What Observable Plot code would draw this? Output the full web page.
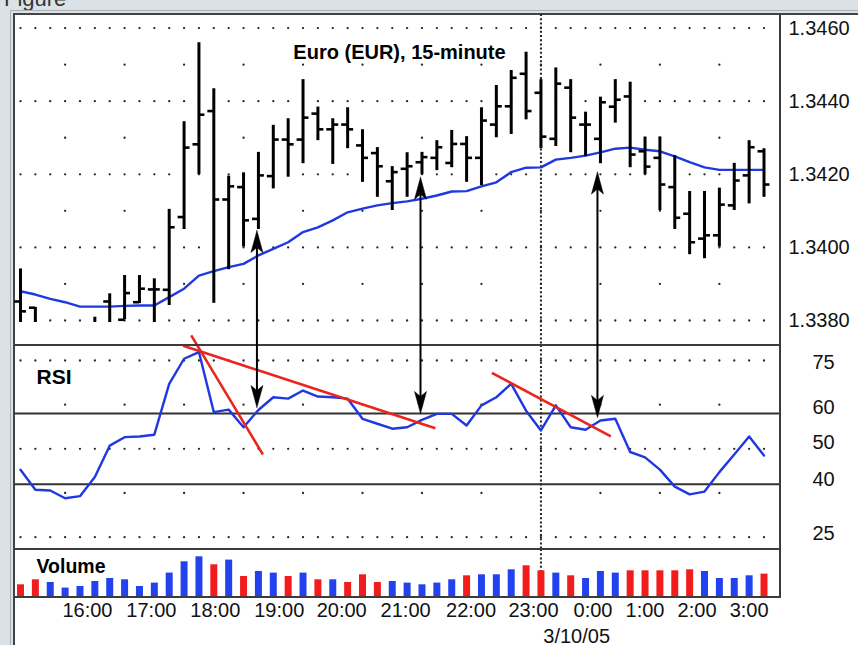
<!DOCTYPE html>
<html><head><meta charset="utf-8">
<script src="https://cdn.jsdelivr.net/npm/d3@7"></script>
<script src="https://cdn.jsdelivr.net/npm/@observablehq/plot@0.6"></script>
<style>
body{margin:0;background:#fff;}
#wrap{position:relative;width:858px;height:645px;overflow:hidden;background:#dce1e5;font-family:"Liberation Sans",Arial,Helvetica,sans-serif;}
#wrap svg{position:absolute;left:0;}
.b{position:absolute;}
</style></head><body><div id="wrap"></div>
<script>
// ---------- data ----------
const openP  = [1.33852,1.33835,null,null,null,1.33770,1.33852,1.33802,1.33850,1.33885,1.33884,1.34083,1.34282,1.34373,1.34131,1.34165,1.34078,1.34195,1.34295,1.34295,1.34366,1.34323,1.34336,1.34279,1.34258,1.34181,1.34215,1.34233,1.34245,1.34231,1.34283,1.34245,1.34336,1.34386,1.34475,1.34423,1.34297,1.34437,1.34336,1.34297,1.34385,1.34413,1.34263,1.34245,1.34165,1.34092,1.34024,1.34033,1.34115,1.34197,1.34263];
const highP  = [1.33941,1.33836,null,null,null,1.33809,1.33873,1.33923,1.33923,1.33914,1.34104,1.34344,1.34560,1.34434,1.34195,1.34204,1.34260,1.34334,1.34352,1.34459,1.34384,1.34352,1.34382,1.34322,1.34273,1.34221,1.34259,1.34260,1.34292,1.34320,1.34303,1.34382,1.34443,1.34484,1.34534,1.34459,1.34491,1.34459,1.34370,1.34411,1.34459,1.34452,1.34302,1.34302,1.34251,1.34153,1.34153,1.34162,1.34230,1.34292,1.34270];
const lowP   = [1.33770,1.33760,null,null,null,1.33750,1.33760,1.33802,1.33846,1.33770,1.33841,1.34049,1.34199,1.33847,1.33939,1.34001,1.34049,1.34160,1.34192,1.34229,1.34292,1.34227,1.34270,1.34178,1.34137,1.34101,1.34137,1.34199,1.34210,1.34218,1.34178,1.34169,1.34300,1.34309,1.34349,1.34270,1.34276,1.34259,1.34249,1.34229,1.34340,1.34218,1.34199,1.34101,1.34049,1.33980,1.33969,1.34001,1.34101,1.34119,1.34137];
const closeP = [1.33825,1.33770,null,null,null,1.33780,1.33780,1.33875,1.33887,1.33885,1.34055,1.34273,1.34363,1.34131,1.34167,1.34074,1.34197,1.34295,1.34282,1.34355,1.34323,1.34336,1.34323,1.34245,1.34222,1.34206,1.34222,1.34247,1.34274,1.34283,1.34245,1.34347,1.34386,1.34464,1.34373,1.34303,1.34448,1.34355,1.34336,1.34397,1.34404,1.34254,1.34221,1.34172,1.34081,1.34014,1.34033,1.34117,1.34183,1.34274,1.34172];
const movingAvg = [1.33880,1.33871,1.33859,1.33850,1.33838,1.33838,1.33838,1.33840,1.33841,1.33841,1.33864,1.33887,1.33923,1.33935,1.33946,1.33955,1.33978,1.33996,1.34014,1.34042,1.34055,1.34074,1.34096,1.34106,1.34115,1.34121,1.34126,1.34133,1.34142,1.34153,1.34154,1.34167,1.34178,1.34206,1.34218,1.34219,1.34240,1.34245,1.34251,1.34260,1.34270,1.34273,1.34267,1.34263,1.34249,1.34233,1.34219,1.34212,1.34212,1.34212,1.34212];
const rsi = [44.1,38.4,38.2,36.0,36.6,42.0,50.9,53.3,53.5,54.0,68.4,75.5,77.4,60.4,61.1,56.1,61.0,64.6,64.2,66.5,64.8,64.6,64.2,58.5,57.1,55.7,56.1,58.2,59.9,59.9,56.6,62.3,64.6,68.4,60.8,55.2,62.3,56.1,55.4,58.0,58.5,49.1,47.6,44.1,39.3,37.1,37.9,43.4,48.4,53.5,48.1];
const volume = [1170,1670,1400,840,1000,1500,1800,1670,1000,1340,2340,3470,3970,3170,3640,2000,2500,2340,2000,2340,1670,1670,1400,2170,1400,1500,1340,1170,1340,1670,2070,2170,2170,2670,3070,2570,2340,2070,1800,2500,2340,2570,2570,2570,2570,2670,2500,1800,1800,2070,2240];
const volumeDown = [1,1,0,0,0,0,0,0,0,0,0,0,0,1,0,1,0,0,1,0,1,0,1,1,1,0,0,0,0,0,1,0,0,0,1,1,0,1,0,0,0,1,1,1,1,1,0,0,0,0,1];

const timeLabels = ["16:00","17:00","18:00","19:00","20:00","21:00","22:00","23:00","0:00","1:00","2:00","3:00"];
const timeLabelAt = [4.5,8.8,13.1,17.4,21.6,25.9,30.3,34.5,38.5,42.0,45.5,49.0];
const dateLabel = "3/10/05", dateLabelAt = 37.4;
const dayBreak = 35;
const hourGrid = [3,7,11,15,19,23,27,31,35,39,43,47];

const priceTicks = [1.3460,1.3440,1.3420,1.3400,1.3380];
const priceSparse = [1.3450,1.3430,1.3410,1.3390];
const rsiDense = [75,50,25], rsiSparse = [62.5,37.5], rsiLevels = [60,40];
const rsiTickLabels = ["75","60","50","40","25"];
const rsiTickAt = [74.35,61.8,51.9,41.3,26.1];

const titleText = "Euro (EUR), 15-minute", titleAt = {i: 18.35, p: 1.34515};

// red RSI trendlines [i, rsi] start and end
const trendStart = [[10.94,79.2],[11.48,82.1],[31.7,71.5]];
const trendEnd   = [[27.9,55.8],[16.3,48.4],[39.7,53.5]];
// double arrows linking price to RSI
const arrowAt = [15.9,26.9,38.8];
const arrowPrice = [1.34046,1.34192,1.34206];
const arrowRsi = [61.7,60.0,58.9];

// ---------- build ----------
const FONT = '"Liberation Sans", Arial, Helvetica, sans-serif';
const BLUE = "#1f38e0", VBLUE = "#2342ef", VRED = "#f21c1c", TRED = "#e8261f";
const DOT = "#262626";
const idx = d3.range(rsi.length);
const xDomain = [-0.4035, 51.11];
const TL = 0.4;
const grid = (rows, cols) => rows.flatMap(y => cols.map(x => ({x, y})));
const common = {width: 858, marginLeft: 14, marginRight: 78,
  style: {background: "transparent", overflow: "visible", fontFamily: FONT}};
const dotted = {stroke: "#222", strokeWidth: 2, strokeDasharray: "2,2.2"};
const dotOpts = {x: "x", y: "y", r: 1.15, fill: DOT, stroke: null};

const wrap = document.getElementById("wrap");
function box(css){const d=document.createElement("div");d.className="b";d.style.cssText=css;wrap.appendChild(d);return d;}
const fig = box("left:4px;top:-14px;font-size:22px;line-height:1.2;color:#333;white-space:nowrap;");
fig.textContent = "Figure";
box("left:10px;top:10px;width:900px;height:700px;border-left:1px solid #a9afb4;border-top:1px solid #a9afb4;");
box("left:13px;top:13px;width:900px;height:700px;background:#fff;border-left:2px solid #444;border-top:2px solid #444;");

const bars = idx.map(i => ({i, o: openP[i], h: highP[i], l: lowP[i], c: closeP[i]})).filter(d => d.h != null);

const pricePlot = Plot.plot({...common, height: 331, marginTop: 0, marginBottom: 23,
  x: {domain: xDomain, axis: null},
  y: {domain: [1.337945, 1.346372], axis: null},
  marks: [
    Plot.dot(grid(priceTicks, idx), dotOpts),
    Plot.dot(grid(priceSparse, hourGrid), dotOpts),
    Plot.ruleX([dayBreak], {...dotted, insetBottom: -23}),
    Plot.line(idx, {x: i => i, y: i => movingAvg[i], stroke: BLUE, strokeWidth: 2.4}),
    Plot.ruleX(bars, {x: "i", y1: "l", y2: "h", stroke: "#000", strokeWidth: 3, clip: true}),
    Plot.ruleY(bars, {y: "o", x1: d => d.i - TL, x2: "i", stroke: "#000", strokeWidth: 2.6, clip: true}),
    Plot.ruleY(bars, {y: "c", x1: "i", x2: d => d.i + TL, stroke: "#000", strokeWidth: 2.6, clip: true}),
    Plot.text(priceTicks, {y: d => d, text: d => d.toFixed(4), frameAnchor: "right", dx: 8, textAnchor: "start", fontSize: 20, fill: "#111"}),
    Plot.text([titleText], {x: () => titleAt.i, y: () => titleAt.p, text: d => d, textAnchor: "start", lineAnchor: "bottom", fontWeight: "bold", fontSize: 20, fill: "#000", style: "letter-spacing:0.5px"})
  ]});
pricePlot.style.top = "14px";
wrap.appendChild(pricePlot);

const trends = trendStart.map((s, k) => ({x1: s[0], y1: s[1], x2: trendEnd[k][0], y2: trendEnd[k][1]}));
const rsiPlot = Plot.plot({...common, height: 204, marginTop: 0, marginBottom: 0,
  x: {domain: xDomain, axis: null},
  y: {domain: [21.5, 79.25], axis: null},
  marks: [
    Plot.dot(grid(rsiDense, idx), dotOpts),
    Plot.dot(grid(rsiSparse, hourGrid), dotOpts),
    Plot.ruleY(rsiLevels, {stroke: "#333", strokeWidth: 2}),
    Plot.ruleX([dayBreak], dotted),
    Plot.line(idx, {x: i => i, y: i => rsi[i], stroke: BLUE, strokeWidth: 2.4}),
    Plot.link(trends, {x1: "x1", y1: "y1", x2: "x2", y2: "y2", stroke: TRED, strokeWidth: 2.6}),
    Plot.text(rsiTickLabels, {y: (d, k) => rsiTickAt[k], text: d => d, frameAnchor: "right", dx: 43, textAnchor: "middle", fontSize: 20, fill: "#111"}),
    Plot.text(["RSI"], {frameAnchor: "top-left", dx: 22, dy: 38, lineAnchor: "bottom", textAnchor: "start", fontWeight: "bold", fontSize: 21, fill: "#000"})
  ]});
rsiPlot.style.top = "345px";
wrap.appendChild(rsiPlot);

const vols = idx.map(i => ({i, v: volume[i], down: volumeDown[i]}));
const volPlot = Plot.plot({...common, height: 96, marginTop: 0, marginBottom: 49,
  x: {domain: xDomain, axis: null},
  y: {domain: [0, 4700], axis: null},
  marks: [
    Plot.ruleX([dayBreak], dotted),
    Plot.ruleX(vols, {x: "i", y1: 0, y2: "v", stroke: d => d.down ? VRED : VBLUE, strokeWidth: 7}),
    Plot.text(["Volume"], {frameAnchor: "top-left", dx: 22, dy: 23, lineAnchor: "bottom", textAnchor: "start", fontWeight: "bold", fontSize: 19.5, fill: "#000", style: "letter-spacing:0.6px"}),
    Plot.text(timeLabels, {x: (d, k) => timeLabelAt[k], text: d => d, frameAnchor: "bottom", dy: 20, lineAnchor: "bottom", fontSize: 20, fill: "#111"}),
    Plot.text([dateLabel], {x: () => dateLabelAt, text: d => d, frameAnchor: "bottom", dy: 46, lineAnchor: "bottom", fontSize: 20, fill: "#111"})
  ]});
volPlot.style.top = "549px";
wrap.appendChild(volPlot);

// pane borders
box("left:779px;top:14px;width:2px;height:584px;background:#3c3c3c;");
box("left:14px;top:344px;width:766px;height:2px;background:#3c3c3c;");
box("left:14px;top:548px;width:766px;height:2px;background:#3c3c3c;");
box("left:14px;top:596px;width:767px;height:2px;background:#3c3c3c;");

// arrows overlay via the panes' own scales
const fn = s => s.apply ? (v => s.apply(v)) : d3.scaleLinear(s.domain, s.range);
const sx = fn(pricePlot.scale("x")), syP = fn(pricePlot.scale("y")), syR = fn(rsiPlot.scale("y"));
const arrows = arrowAt.map((a, k) => ({x: sx(a), top: 14 + syP(arrowPrice[k]), bot: 345 + syR(arrowRsi[k])}));
const HL = 22, HN = 17, HW = 6;
const heads = arrows.flatMap((a, k) => [
  {k: "u" + k, x: a.x, y: a.top}, {k: "u" + k, x: a.x + HW, y: a.top + HL}, {k: "u" + k, x: a.x, y: a.top + HN}, {k: "u" + k, x: a.x - HW, y: a.top + HL}, {k: "u" + k, x: a.x, y: a.top},
  {k: "d" + k, x: a.x, y: a.bot}, {k: "d" + k, x: a.x + HW, y: a.bot - HL}, {k: "d" + k, x: a.x, y: a.bot - HN}, {k: "d" + k, x: a.x - HW, y: a.bot - HL}, {k: "d" + k, x: a.x, y: a.bot}
]);
const arrowPlot = Plot.plot({width: 858, height: 645, margin: 0,
  style: {background: "transparent", overflow: "visible"},
  x: {type: "identity", axis: null}, y: {type: "identity", axis: null},
  marks: [
    Plot.link(arrows, {x1: "x", x2: "x", y1: d => d.top + 8, y2: d => d.bot - 8, stroke: "#000", strokeWidth: 2}),
    Plot.line(heads, {x: "x", y: "y", z: "k", fill: "#000", stroke: "#000", strokeWidth: 0.5})
  ]});
arrowPlot.style.top = "0px";
wrap.appendChild(arrowPlot);
</script></body></html>
